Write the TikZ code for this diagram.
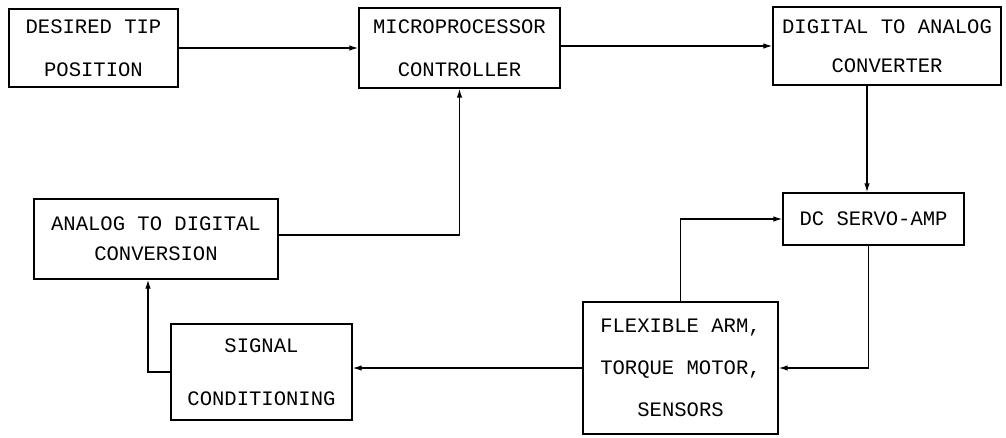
\documentclass[tikz,border=0pt]{standalone}
\usepackage{fontspec}
\setmonofont{Liberation Mono}
\usetikzlibrary{arrows.meta,positioning,calc}

\begin{document}
\begin{tikzpicture}[
    x=0.02cm, y=-0.02cm,
    blk/.style={rectangle, draw, line width=0.75pt, inner sep=0pt, align=center,
                font=\fontsize{11.7}{14}\selectfont\ttfamily},
    arr/.style={line width=0.75pt, -{Latex[length=1.8mm,width=1.1mm]}}
  ]
    \useasboundingbox (0,0) rectangle (1006,437);

    % Top row
    \node[blk, minimum width=3.38cm, minimum height=1.56cm] (tip) at (93.5,48)
      {DESIRED TIP\\[10.5pt]POSITION};
    \node[blk, minimum width=4.02cm, minimum height=1.6cm] (mpc) at (459.5,48)
      {MICROPROCESSOR\\[10.5pt]CONTROLLER};
    \node[blk, minimum width=4.56cm, minimum height=1.56cm] (dac) at (887,46)
      {DIGITAL TO ANALOG\\[8pt]CONVERTER};

    % Middle row
    \node[blk, minimum width=4.88cm, minimum height=1.6cm] (adc) at (156,239)
      {ANALOG TO DIGITAL\\[3pt]CONVERSION};
    \node[blk, minimum width=3.62cm, minimum height=1.04cm] (servo) at (873.5,219)
      {DC SERVO-AMP};

    % Bottom row
    \node[blk, minimum width=3.62cm, minimum height=1.92cm] (sig) at (261.5,372)
      {SIGNAL\\[16pt]CONDITIONING};
    \node[blk, minimum width=3.9cm, minimum height=2.64cm] (arm) at (680.5,368)
      {FLEXIBLE ARM,\\[10pt]TORQUE MOTOR,\\[10pt]SENSORS};

    % Connectors
    \draw[arr] (tip.east) -- (mpc.west);
    \draw[arr] (mpc.east |- dac.west) -- (dac.west);
    \draw[arr] ([xshift=-0.4cm]dac.south) -- ([xshift=-0.4cm]dac.south |- servo.north);
    \draw[arr] ([xshift=-0.1cm]servo.south) |- (arm.east);
    \draw[arr] (arm.north) |- (servo.west);
    \draw[arr] (arm.west) -- (arm.west -| sig.east);
    \draw[arr] (sig.west) -| ([xshift=-0.16cm]adc.south);
    \draw[arr] ([yshift=0.08cm]adc.east) -| (mpc.south);
  \end{tikzpicture}
\end{document}
